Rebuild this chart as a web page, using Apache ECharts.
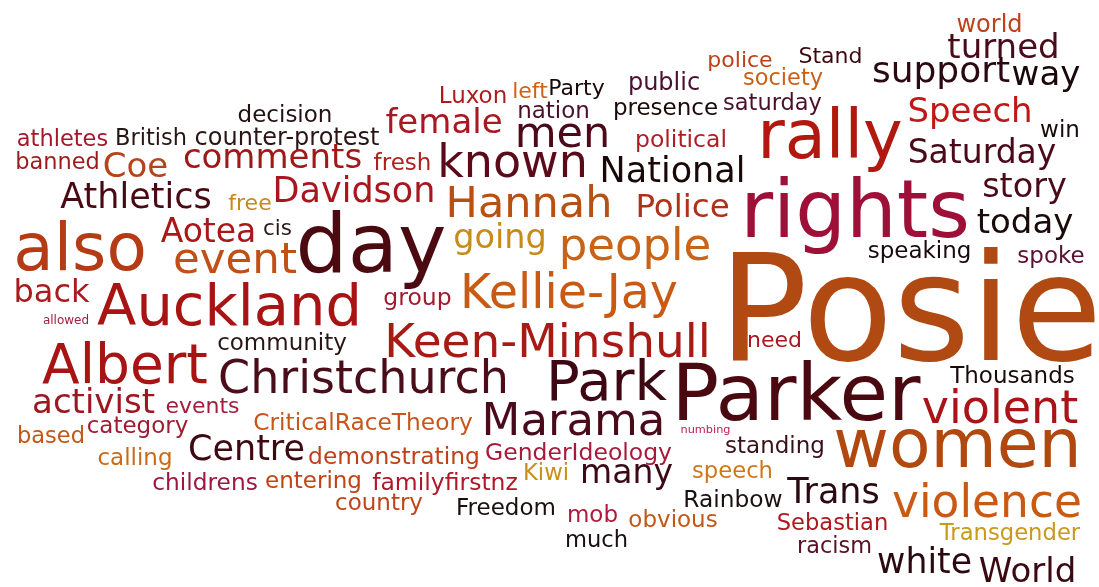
<!DOCTYPE html>
<html>
<head>
<meta charset="utf-8">
<title>word cloud</title>
<script src="https://cdn.jsdelivr.net/npm/echarts@6/dist/echarts.min.js"></script>
<style>
  html, body { margin: 0; padding: 0; background: #ffffff; }
  #chart { width: 1099px; height: 587px; }
</style>
</head>
<body>
<div id="chart"></div>
<script>
// words of the cloud, in reading order (top to bottom)
const words = ['world', 'turned', 'police', 'Stand', 'support', 'way', 'society', 'public', 'Luxon', 'left',
  'Party', 'nation', 'presence', 'saturday', 'decision', 'athletes', 'British', 'counter-protest', 'female', 'men',
  'political', 'rally', 'Speech', 'win', 'Saturday', 'banned', 'Coe', 'comments', 'fresh', 'known',
  'National', 'Athletics', 'free', 'Davidson', 'Hannah', 'Police', 'story', 'rights', 'today', 'also',
  'Aotea', 'cis', 'event', 'day', 'going', 'people', 'speaking', 'spoke', 'back', 'group',
  'Kellie-Jay', 'Auckland', 'allowed', 'Keen-Minshull', 'need', 'Posie', 'community', 'Albert', 'Christchurch', 'Park',
  'Parker', 'Thousands', 'activist', 'events', 'violent', 'based', 'category', 'CriticalRaceTheory', 'Marama', 'numbing',
  'standing', 'women', 'calling', 'Centre', 'demonstrating', 'GenderIdeology', 'Kiwi', 'many', 'speech', 'childrens',
  'entering', 'familyfirstnz', 'country', 'Freedom', 'mob', 'obvious', 'much', 'Rainbow', 'Trans', 'violence',
  'Sebastian', 'Transgender', 'racism', 'white', 'World'];

// word weight, shown as font size
const weights = [24, 34, 22, 22, 36, 34, 22.5, 24, 23, 22,
  22, 23, 23, 22.5, 23, 22.5, 22.5, 24, 34, 43,
  23.5, 67, 34, 23, 33, 22.5, 34, 34, 23, 46,
  35, 35, 22, 35, 43, 32.5, 33.5, 80, 34, 66,
  33, 21.5, 43.5, 82, 33.5, 45, 23, 23, 32, 23.5,
  47.5, 57.5, 12, 47, 22, 148, 23, 55, 46, 56,
  79, 23, 34, 22, 46, 22.5, 23, 23.3, 45, 11.3,
  23, 68, 23, 35, 23.4, 23.5, 22.7, 33, 22.7, 23.3,
  23, 23.5, 23, 23, 23, 23, 22.6, 23.3, 35, 45.5,
  22.6, 22.7, 22.4, 34.7, 34];

// layout: word centre x and text baseline y, in pixels
const layoutX = [989.5, 1003.5, 740, 830.5, 941, 1046, 783, 664, 473, 530,
  576.5, 553.5, 665.5, 772.5, 285, 62.5, 151, 287, 444, 562.5,
  681, 830, 970, 1060, 982, 57.5, 135.5, 272.5, 402.5, 512.5,
  672.5, 136, 250, 354, 529, 682.5, 1024.5, 855, 1025, 80,
  208.5, 277.5, 235, 371, 500, 635, 919.5, 1051, 51.5, 417.5,
  569, 229.5, 66, 547.5, 774.5, 910.5, 282, 125, 363.5, 606.5,
  796, 1012.5, 93.5, 202.5, 1000, 51, 137.5, 363, 573.5, 705.5,
  775, 957.5, 135, 246.5, 394, 578.5, 546, 626.5, 732.5, 205,
  313.5, 445, 379, 506, 592.5, 673, 596.5, 733, 833.5, 987,
  832.5, 1010, 834.5, 924.5, 1027.5];
const layoutY = [32, 58, 67, 63, 82, 85, 85, 90, 103, 98,
  95, 118, 115, 110, 122, 146, 145, 145, 133, 147,
  147, 158, 122, 137, 163, 169, 177, 168, 170, 177,
  182, 208, 210, 202, 217, 217, 197, 237, 233, 270,
  242, 235, 273, 272, 248, 260, 258, 263, 302, 305,
  308, 325, 324, 357, 347, 360, 350, 383, 393, 400,
  420, 383, 413, 413, 423, 443, 433, 430, 435, 433,
  453, 467, 465, 460, 464, 460, 480, 483, 478, 490,
  488, 490, 510, 515, 522, 527, 547, 507, 503, 517,
  530, 540, 553, 573, 582];

const colors = ['#c0401a', '#4a0a1a', '#c04018', '#3a0a10', '#2a0a10', '#1a0808', '#c86018', '#4a1030', '#b01c1c', '#d06018',
  '#1a0a0a', '#4a1028', '#1a0a0a', '#4a1028', '#231013', '#a5182b', '#2a1515', '#2a1515', '#a81820', '#4a0a1a',
  '#b01c24', '#b01810', '#c01818', '#1a0a0a', '#4a0a1a', '#9e1b1b', '#b5441c', '#a01818', '#b0201e', '#5a0a18',
  '#1a0808', '#4a0a14', '#c8891a', '#a8161e', '#b85014', '#b0301a', '#4a0a18', '#9e1038', '#1a0a0a', '#b53a16',
  '#a81818', '#2a1818', '#c05016', '#4a0a10', '#c88a18', '#c86418', '#1a0a10', '#5a1030', '#a81c20', '#a01a30',
  '#c85a14', '#a81414', '#a02040', '#a81a14', '#a81820', '#b04a12', '#2a1515', '#a81414', '#4a0d1a', '#3d0814',
  '#4a0810', '#1a0a0a', '#9e1620', '#a01e3c', '#a81418', '#c05818', '#a01a30', '#c8561a', '#4a0a1c', '#c02050',
  '#3a1018', '#b04810', '#c86a18', '#3d0a12', '#c04018', '#a81a3a', '#c89018', '#3a0a18', '#d07818', '#9c1840',
  '#c04416', '#b0182a', '#c0441a', '#1a1010', '#b01a3a', '#c05818', '#1a1010', '#1a1010', '#2a0a10', '#c85a14',
  '#b01820', '#c89a1c', '#5a0f22', '#2a0a10', '#3a0a12'];

const chart = echarts.init(document.getElementById('chart'));

// label is centred on the point, so shift the baseline up to the text middle
const items = words.map(function (w, i) {
  return {
    name: w,
    value: [layoutX[i], layoutY[i] - weights[i] * 0.26],
    label: { fontSize: weights[i], color: colors[i] }
  };
});

const option = {
  backgroundColor: '#ffffff',
  animation: false,
  grid: { left: 0, right: 0, top: 0, bottom: 0 },
  xAxis: { type: 'value', min: 0, max: 1099, show: false },
  yAxis: { type: 'value', min: 0, max: 587, inverse: true, show: false },
  series: [
    {
      type: 'scatter',
      symbolSize: 0,
      silent: true,
      itemStyle: { opacity: 1 },
      data: items,
      label: {
        show: true,
        position: 'inside',
        formatter: '{b}',
        fontFamily: 'DejaVu Sans',
        fontWeight: 'normal',
        align: 'center',
        verticalAlign: 'middle',
        opacity: 1
      }
    }
  ]
};

chart.setOption(option);
</script>
</body>
</html>
